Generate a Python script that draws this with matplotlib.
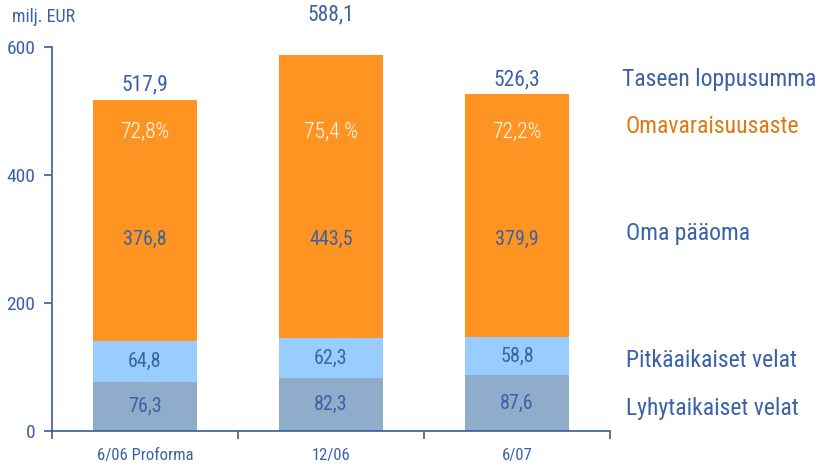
import matplotlib
matplotlib.use("Agg")
import matplotlib.pyplot as plt
import numpy as np

plt.rcParams["font.family"] = ["Roboto Condensed", "DejaVu Sans"]

# Data (milj. EUR)
categories = ["6/06 Proforma", "12/06", "6/07"]
lyhytaikaiset = [76.3, 82.3, 87.6]
pitkaaikaiset = [64.8, 62.3, 58.8]
oma_paaoma = [376.8, 443.5, 379.9]
totals = [517.9, 588.1, 526.3]
omavaraisuus = ["72,8%", "75,4 %", "72,2%"]
series_names = ["Lyhytaikaiset velat", "Pitkäaikaiset velat", "Oma pääoma"]

# how far above the bar each total label sits (data units)
total_pad = [6, 45, 6]

c_short = "#8FADCA"
c_long = "#99CCFF"
c_equity = "#FF9422"
c_text = "#3B62A6"
c_axis = "#3A5C9A"
c_orange_txt = "#E0780F"


def fi(v):
    return f"{v:.1f}".replace(".", ",")


fig = plt.figure(figsize=(8.21, 4.75), dpi=100)
ax = fig.add_axes([0.0633, 0.0926, 0.6797, 0.8084])

x = np.arange(len(categories))
w = 0.56
ax.bar(x, lyhytaikaiset, w, color=c_short, zorder=2)
bottom2 = np.array(lyhytaikaiset)
ax.bar(x, pitkaaikaiset, w, bottom=bottom2, color=c_long, zorder=2)
bottom3 = bottom2 + np.array(pitkaaikaiset)
ax.bar(x, oma_paaoma, w, bottom=bottom3, color=c_equity, zorder=2)

# segment labels
for i in range(len(categories)):
    ax.text(x[i], lyhytaikaiset[i] / 2, fi(lyhytaikaiset[i]),
            ha="center", va="center", fontsize=14.5, color=c_text)
    ax.text(x[i], bottom2[i] + pitkaaikaiset[i] / 2, fi(pitkaaikaiset[i]),
            ha="center", va="center", fontsize=14.5, color=c_text)
    ax.text(x[i], 300, fi(oma_paaoma[i]),
            ha="center", va="center", fontsize=14.5, color=c_text)
    ax.text(x[i], 467, omavaraisuus[i], ha="center", va="center",
            fontsize=15.5, color="white", fontweight="light")
    ax.text(x[i], totals[i] + total_pad[i], fi(totals[i]),
            ha="center", va="bottom", fontsize=15.5, color=c_text, clip_on=False)

ax.set_xlim(-0.5, 2.5)
ax.set_ylim(0, 600)
ax.set_yticks([0, 200, 400, 600])
ax.set_xticks(x)
ax.set_xticklabels(categories)
ax.set_xticks([-0.5, 0.5, 1.5, 2.5], minor=True)
ax.tick_params(axis="x", which="major", length=0, pad=12, labelsize=12, colors=c_text)
ax.tick_params(axis="x", which="minor", length=6, width=1.2, color=c_axis, direction="out")
ax.tick_params(axis="y", length=6, width=1.2, color=c_axis, direction="out",
               labelsize=14, labelcolor=c_text, pad=6)

for s in ["top", "right"]:
    ax.spines[s].set_visible(False)
for s in ["left", "bottom"]:
    ax.spines[s].set_color(c_axis)
    ax.spines[s].set_linewidth(1.2)

fig.text(0.015, 0.965, "milj. EUR", fontsize=13, color=c_text, ha="left", va="center")

# right side legend texts
fig.text(0.758, 0.832, "Taseen loppusumma", fontsize=17, color=c_text, va="center")
fig.text(0.762, 0.733, "Omavaraisuusaste", fontsize=17, color=c_orange_txt, va="center")
fig.text(0.762, 0.509, series_names[2], fontsize=17, color=c_text, va="center")
fig.text(0.762, 0.242, series_names[1], fontsize=17, color=c_text, va="center")
fig.text(0.762, 0.141, series_names[0], fontsize=17, color=c_text, va="center")

fig.savefig("out.png", dpi=100)
